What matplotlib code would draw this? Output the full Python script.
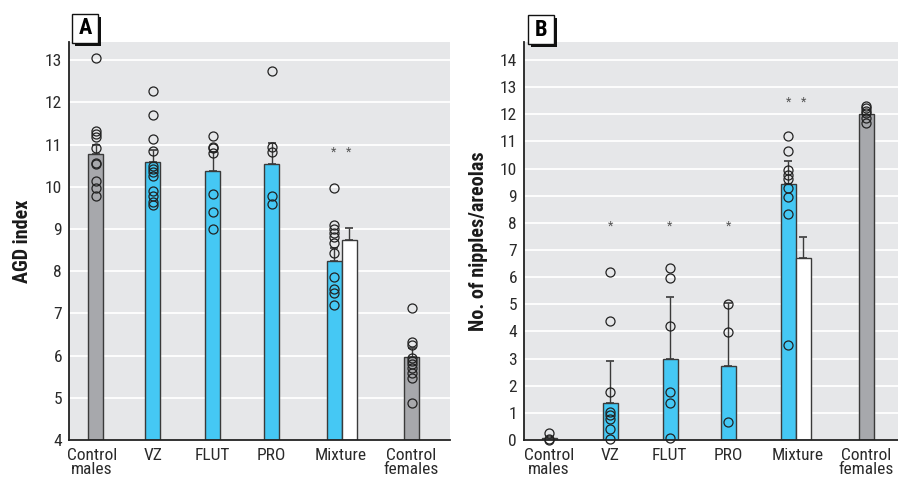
import matplotlib
matplotlib.use('Agg')
import matplotlib.pyplot as plt
from matplotlib.patches import Rectangle

plt.rcParams['font.family'] = ['Roboto Condensed', 'DejaVu Sans']
plt.rcParams['font.stretch'] = 'condensed'

#### Data
groups = ['Control\nmales', 'VZ', 'FLUT', 'PRO', 'Mixture', 'Control\nfemales']

# Panel A: AGD index
agd_means = [10.78, 10.59, 10.38, 10.55, 8.24, 5.97]
agd_err = [0.21, 0.28, 0.45, 0.48, 0.31, 0.20]
agd_mix_white = 8.75
agd_mix_white_err = 0.28
agd_points = [
    [13.06, 11.32, 11.25, 11.18, 10.91, 10.57, 10.55, 10.14, 9.98, 9.79],
    [12.27, 11.70, 11.13, 10.85, 10.50, 10.42, 10.34, 10.26, 9.91, 9.79, 9.65, 9.57],
    [11.21, 10.95, 10.91, 10.81, 9.83, 9.41, 9.00],
    [12.74, 10.95, 10.83, 9.79, 9.58],
    [9.98, 9.09, 9.00, 8.90, 8.80, 8.66, 8.44, 7.87, 7.57, 7.48, 7.20],
    [7.13, 6.33, 6.25, 5.95, 5.87, 5.79, 5.70, 5.58, 5.48, 4.87],
]
agd_stars = [10.81, 10.81]

# Panel B: nipples/areolas
nip_means = [0.06, 1.38, 2.97, 2.73, 9.43, 12.00]
nip_err = [0.0, 1.53, 2.31, 2.33, 0.86, 0.0]
nip_mix_white = 6.69
nip_mix_white_err = 0.78
nip_points = [
    [0.27, 0.02, 0.0],
    [6.20, 4.38, 1.76, 1.04, 0.92, 0.77, 0.41, 0.04],
    [6.33, 5.98, 4.20, 1.78, 1.38, 0.06],
    [5.00, 3.97, 0.68],
    [11.21, 10.66, 9.95, 9.76, 9.60, 9.27, 8.94, 8.33, 3.50],
    [12.30, 12.22, 12.13, 12.06, 11.85, 11.67],
]
nip_stars = [7.86, 7.86, 7.86, 12.44, 12.44]

#### Layout (x in pixel-like units inside each panel)
W, H = 898, 478
BLUE = '#45c8f4'
GRAY = '#a7a8ac'
EDGE = '#3a3a3a'
BG = '#e6e7e9'
bar_w = 15

def panel(ax, x0, x1, bar_x, white_x, label_x, means, err, white, white_err,
          points, star_x, stars, ylim, yticks, ylabel):
    ax.set_facecolor(BG)
    ax.set_xlim(x0, x1)
    ax.set_ylim(*ylim)
    for y in yticks:
        ax.axhline(y, color='white', lw=1.3, zorder=0)
    colors = [GRAY, BLUE, BLUE, BLUE, BLUE, GRAY]
    for i in range(len(means)):
        ax.bar(bar_x[i], means[i] - ylim[0], bottom=ylim[0], width=bar_w,
               color=colors[i], edgecolor=EDGE, lw=1, zorder=2)
        if err[i] > 0:
            ax.errorbar(bar_x[i], means[i], yerr=[[0], [err[i]]], color=EDGE,
                        lw=1, capsize=3, capthick=1.2, zorder=3)
    # second (white) bar of the mixture group
    ax.bar(white_x, white - ylim[0], bottom=ylim[0], width=bar_w, color='white',
           edgecolor=EDGE, lw=1, zorder=2)
    ax.errorbar(white_x, white, yerr=[[0], [white_err]], color=EDGE, lw=1,
                capsize=3, capthick=1.2, zorder=3)
    # individual animals
    for i, pts in enumerate(points):
        ax.plot([bar_x[i]] * len(pts), pts, 'o', mfc='none', mec='#222222',
                ms=6.5, mew=0.9, zorder=4, clip_on=False)
    for sx, sy in zip(star_x, stars):
        ax.text(sx, sy, '*', ha='center', va='center', fontsize=9,
                color='#555555', zorder=5)
    ax.set_yticks(yticks)
    ax.set_yticklabels([str(v) for v in yticks])
    ax.set_xticks(label_x)
    ax.set_xticklabels(groups, linespacing=0.92)
    ax.tick_params(length=0, labelsize=12.5, labelcolor='#2a2a2a')
    ax.tick_params(axis='y', pad=5)
    ax.tick_params(axis='x', pad=6)
    for s in ['top', 'right']:
        ax.spines[s].set_visible(False)
    for s in ['left', 'bottom']:
        ax.spines[s].set_color('#222222')
        ax.spines[s].set_linewidth(1.3)
    ax.set_ylabel(ylabel, fontsize=14.5, fontweight='bold', color='#1a1a1a')
    ax.yaxis.label.set_va('center')


fig = plt.figure(figsize=(W / 100, H / 100), dpi=100)

axA = fig.add_axes([69 / W, 38 / H, 381 / W, 398 / H])
panel(axA, 69, 450,
      [95.7, 152.7, 212.7, 271.7, 334, 411.7], 349,
      [92, 152.7, 212, 271.7, 341, 411],
      agd_means, agd_err, agd_mix_white, agd_mix_white_err, agd_points,
      [334, 348.5], agd_stars, (4, 13.43), list(range(4, 14)), 'AGD index')
axA.yaxis.set_label_coords((22 - 69) / 381, 0.5)

axB = fig.add_axes([524 / W, 38 / H, 374 / W, 398 / H])
panel(axB, 524, 898,
      [549, 610.3, 670, 728.3, 788.3, 866], 803.3,
      [549, 610.3, 669, 728.3, 798, 866],
      nip_means, nip_err, nip_mix_white, nip_mix_white_err, nip_points,
      [610.3, 670, 728.3, 788.3, 803.3], nip_stars, (0, 14.66), list(range(0, 15)),
      'No. of nipples/areolas')
axB.yaxis.set_label_coords((479 - 524) / 374, 0.5)

# Panel letters with drop shadow boxes
for (bx, by, letter) in [(72, 14, 'A'), (528, 15, 'B')]:
    w, h = 26, 29
    fig.patches.append(Rectangle(((bx + 3) / W, 1 - (by + h + 3) / H), w / W, h / H,
                                 transform=fig.transFigure, facecolor='#111111',
                                 edgecolor='none', zorder=5))
    fig.patches.append(Rectangle((bx / W, 1 - (by + h) / H), w / W, h / H,
                                 transform=fig.transFigure, facecolor='white',
                                 edgecolor='#111111', lw=1, zorder=6))
    fig.text((bx + w / 2) / W, 1 - (by + h / 2) / H, letter, ha='center', va='center',
             fontsize=16, fontweight='bold', zorder=7)

fig.savefig('out.png', dpi=100)
